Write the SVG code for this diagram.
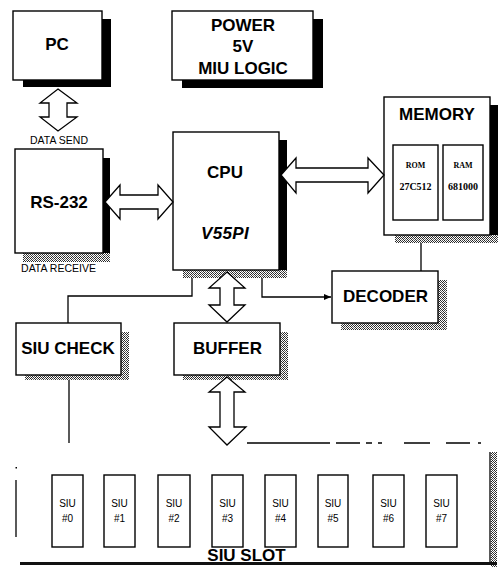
<svg xmlns="http://www.w3.org/2000/svg" width="498" height="575" viewBox="0 0 498 575">
<defs>
<pattern id="dith" width="4" height="4" patternUnits="userSpaceOnUse">
<rect width="4" height="4" fill="#fff"/>
<rect x="0" y="0" width="1" height="1" fill="#222"/>
<rect x="2" y="0" width="1" height="1" fill="#555"/>
<rect x="1" y="1" width="1" height="1" fill="#333"/>
<rect x="3" y="1" width="1" height="1" fill="#222"/>
<rect x="0" y="2" width="1" height="1" fill="#444"/>
<rect x="2" y="2" width="1" height="1" fill="#222"/>
<rect x="3" y="3" width="1" height="1" fill="#333"/>
<rect x="1" y="3" width="1" height="1" fill="#666"/>
</pattern>
<marker id="ah" markerWidth="8" markerHeight="8" refX="7" refY="4" orient="auto" markerUnits="userSpaceOnUse">
<path d="M0,1 L7,4 L0,7 Z" fill="#000"/>
</marker>
<style>
.box{fill:#fff;stroke:#000;stroke-width:1.4}
.sb{fill:#000}
.sd{fill:url(#dith)}
.big{font-family:"Liberation Sans",Arial,sans-serif;font-weight:bold;font-size:17px;text-anchor:middle;fill:#000}
.sm{font-family:"Liberation Sans",Arial,sans-serif;font-size:10.5px;text-anchor:middle;fill:#000}
.siu{font-family:"Liberation Sans",Arial,sans-serif;font-size:10px;text-anchor:middle;fill:#000}
.mem{font-family:"Liberation Serif","Times New Roman",serif;font-weight:bold;text-anchor:middle;fill:#000}
.fat{fill:#fff;stroke:#000;stroke-width:1.3;stroke-linejoin:miter}
.ln{fill:none;stroke:#000;stroke-width:1.3}
</style>
</defs>
<rect width="498" height="575" fill="#fff"/>

<g id="pc">
<rect class="sb" x="102" y="19" width="9" height="68"/>
<rect class="sb" x="23" y="80" width="88" height="7"/>
<rect class="box" x="13" y="11" width="89" height="69"/>
<text class="big" x="57" y="50" font-size="18">PC</text>
</g>

<g id="power">
<rect class="sb" x="313" y="19" width="10" height="69"/>
<rect class="sb" x="182" y="80" width="141" height="8"/>
<rect class="box" x="172" y="11" width="141" height="69"/>
<text class="big" x="243" y="31">POWER</text>
<text class="big" x="243" y="52">5V</text>
<text class="big" x="243" y="74">MIU LOGIC</text>
</g>

<g id="rs232">
<rect class="sb" x="103" y="158" width="7" height="104"/>
<rect class="sd" x="23" y="253" width="87" height="9"/>
<rect class="box" x="15" y="149" width="88" height="104"/>
<text class="big" x="59" y="208" font-size="18">RS-232</text>
</g>

<g id="cpu">
<rect class="sb" x="279" y="140" width="8" height="138"/>
<rect class="sd" x="183" y="270" width="104" height="8"/>
<rect class="box" x="173" y="132" width="106" height="138"/>
<text class="big" x="225" y="178">CPU</text>
<text class="big" x="225" y="239" font-size="12" font-style="italic" letter-spacing="0.3">V55PI</text>
</g>

<g id="memory">
<rect class="sb" x="490" y="105" width="8" height="138"/>
<rect class="sd" x="395" y="235" width="103" height="8"/>
<rect class="box" x="384" y="97" width="106" height="138"/>
<text class="big" x="437" y="120">MEMORY</text>
<rect class="box" x="393" y="145" width="45" height="75"/>
<rect class="box" x="443" y="145" width="40" height="75"/>
<text class="mem" x="415.5" y="168" font-size="8">ROM</text>
<text class="mem" x="415.5" y="190" font-size="10">27C512</text>
<text class="mem" x="463" y="168" font-size="8">RAM</text>
<text class="mem" x="463" y="190" font-size="10">681000</text>
</g>

<g id="decoder">
<rect class="sd" x="438" y="280" width="9" height="50"/>
<rect class="sd" x="341" y="323" width="106" height="7"/>
<rect class="box" x="332" y="271" width="106" height="52"/>
<text class="big" x="385.5" y="302">DECODER</text>
</g>

<g id="siucheck">
<rect class="sd" x="121" y="332" width="8" height="48"/>
<rect class="sd" x="25" y="375" width="104" height="5"/>
<rect class="box" x="16" y="323" width="105" height="52"/>
<text class="big" x="68" y="354">SIU CHECK</text>
</g>

<g id="buffer">
<rect class="sd" x="280" y="332" width="8" height="48"/>
<rect class="sd" x="183" y="375" width="105" height="5"/>
<rect class="box" x="174" y="323" width="106" height="52"/>
<text class="big" x="227.5" y="354">BUFFER</text>
</g>

<g id="siuslot">
<path class="ln" d="M247,443 H330 M336,443 H360 M366,443 H372 M378,443 H382 M404,443 H430 M446,443 H470 M478,443 H481" stroke-width="1"/>
<line class="ln" x1="16" y1="480" x2="16" y2="537"/>
<rect x="15.5" y="467" width="1.5" height="1.5" fill="#000"/>
<line class="ln" x1="490" y1="452" x2="490" y2="563" stroke-width="1"/>
<rect class="sd" x="491" y="452" width="6" height="115"/>
<rect x="20" y="562" width="477" height="3" fill="#111"/>
<text class="big" x="246.5" y="561" font-size="13">SIU SLOT</text>
</g>

<g id="siu0"><rect class="box" x="52" y="475" width="31" height="72"/><text class="siu" x="67.5" y="507">SIU</text><text class="siu" x="67.5" y="522">#0</text></g>
<g id="siu1"><rect class="box" x="104" y="475" width="31" height="72"/><text class="siu" x="119.5" y="507">SIU</text><text class="siu" x="119.5" y="522">#1</text></g>
<g id="siu2"><rect class="box" x="158" y="475" width="32" height="72"/><text class="siu" x="174" y="507">SIU</text><text class="siu" x="174" y="522">#2</text></g>
<g id="siu3"><rect class="box" x="212" y="475" width="31" height="72"/><text class="siu" x="227.5" y="507">SIU</text><text class="siu" x="227.5" y="522">#3</text></g>
<g id="siu4"><rect class="box" x="265" y="475" width="31" height="72"/><text class="siu" x="280.5" y="507">SIU</text><text class="siu" x="280.5" y="522">#4</text></g>
<g id="siu5"><rect class="box" x="318" y="475" width="30" height="72"/><text class="siu" x="333" y="507">SIU</text><text class="siu" x="333" y="522">#5</text></g>
<g id="siu6"><rect class="box" x="373" y="475" width="31" height="72"/><text class="siu" x="388.5" y="507">SIU</text><text class="siu" x="388.5" y="522">#6</text></g>
<g id="siu7"><rect class="box" x="426" y="475" width="31" height="72"/><text class="siu" x="441.5" y="507">SIU</text><text class="siu" x="441.5" y="522">#7</text></g>

<g id="connectors">
<path class="fat" d="M58,89 L77,103 L67,103 L67,117 L77,117 L58,131 L40,117 L49,117 L49,103 L40,103 Z"/>
<path class="fat" d="M105,202 L120,185 L120,195 L158,195 L158,185 L173,202 L158,219 L158,209 L120,209 L120,219 Z"/>
<path class="fat" d="M281,175 L296,158 L296,168 L368,168 L368,158 L384,175 L368,193 L368,182 L296,182 L296,193 Z"/>
<path class="fat" d="M227,272 L245,288 L234,288 L234,305 L245,305 L227,322 L209,305 L220,305 L220,288 L209,288 Z"/>
<path class="fat" d="M227,377 L245,392 L234,392 L234,427 L246,427 L227,445 L209,427 L220,427 L220,392 L209,392 Z"/>
<polyline class="ln" points="192,278 192,296 68,296 68,323"/>
<line class="ln" x1="69" y1="380" x2="69" y2="443"/>
<polyline class="ln" points="262,278 262,297 331,297" marker-end="url(#ah)"/>
<line class="ln" x1="421" y1="243" x2="421" y2="271"/>
<text class="sm" x="59" y="144">DATA SEND</text>
<text class="sm" x="58.5" y="272">DATA RECEIVE</text>
</g>
</svg>
